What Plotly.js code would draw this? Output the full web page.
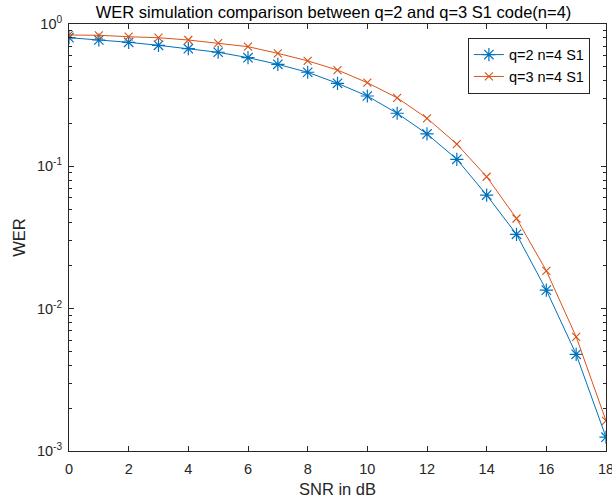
<!DOCTYPE html>
<html>
<head>
<meta charset="utf-8">
<script src="https://cdn.plot.ly/plotly-3.0.1.min.js"></script>
<style>html,body{margin:0;padding:0;background:#fff;}#chart{width:612px;height:504px;}</style>
</head>
<body>
<div id="chart"></div>
<script>
const snr = [0,1,2,3,4,5,6,7,8,9,10,11,12,13,14,15,16,17,18];
const werQ2 = [0.801,0.772,0.744,0.708,0.671,0.633,0.580,0.521,0.458,0.383,0.312,0.236,0.169,0.112,0.0628,0.0333,0.0135,0.00478,0.00125];
const werQ3 = [0.837,0.833,0.814,0.801,0.772,0.735,0.693,0.622,0.551,0.475,0.387,0.303,0.2175,0.1434,0.0845,0.0430,0.01846,0.00634,0.00163];
const xTicks = [0,2,4,6,8,10,12,14,16,18];
const yTicks = [0.001,0.01,0.1,1];
const yTickText = ['10<sup>-3</sup>','10<sup>-2</sup>','10<sup>-1</sup>','10<sup>0</sup>'];
const seriesNames = ['q=2 n=4 S1','q=3 n=4 S1'];

const minorVals = [];
for (let d = 0; d < yTicks.length - 1; d++) {
  for (let m = 2; m <= 9; m++) minorVals.push(yTicks[d] * m);
}

const axisColor = '#262626';
const font = 'Liberation Sans, Arial, sans-serif';

const traces = [
  {x: snr, y: werQ2, name: seriesNames[0], mode: 'lines+markers', type: 'scatter',
   line: {color: '#0072BD', width: 1},
   marker: {symbol: 'asterisk-open', size: 11, color: '#0072BD', line: {color: '#0072BD', width: 1.2}}},
  {x: snr, y: werQ3, name: seriesNames[1], mode: 'lines+markers', type: 'scatter',
   line: {color: '#D95319', width: 1},
   marker: {symbol: 'x-thin-open', size: 8, color: '#D95319', line: {color: '#D95319', width: 1.1}}}
];

const layout = {
  width: 612, height: 504,
  margin: {l: 69, r: 6, t: 24, b: 53},
  paper_bgcolor: '#fff', plot_bgcolor: '#fff',
  font: {family: font, color: axisColor, size: 14.5},
  title: {text: 'WER simulation comparison between q=2 and q=3 S1 code(n=4)',
          font: {family: font, size: 16.5, color: '#000'}, x: 0.545, xanchor: 'center', y: 12, yanchor: 'middle', yref: 'container'},
  xaxis: {range: [0, 18], tickmode: 'array', tickvals: xTicks, ticks: 'inside', ticklen: 5,
          tickcolor: axisColor, showline: true, linecolor: axisColor, linewidth: 1, mirror: 'ticks',
          showgrid: false, zeroline: false, tickfont: {size: 14.5, color: axisColor},
          ticklabeloverflow: 'allow', ticklabelstandoff: 5, automargin: false,
          title: {text: 'SNR in dB', font: {size: 16.5, color: axisColor}, standoff: 7}},
  yaxis: {type: 'log', range: [-3, 0], tickmode: 'array', tickvals: yTicks, ticktext: yTickText,
          ticks: 'inside', ticklen: 5, tickcolor: axisColor, showline: true, linecolor: axisColor,
          linewidth: 1, mirror: 'ticks', showgrid: false, zeroline: false,
          tickfont: {size: 14.5, color: axisColor}, ticklabeloverflow: 'allow', ticklabelstandoff: 3,
          automargin: false,
          minor: {tickmode: 'array', tickvals: minorVals, ticks: 'inside', ticklen: 3, tickcolor: axisColor, showgrid: false},
          title: {text: 'WER', font: {size: 16.5, color: axisColor}, standoff: 7}},
  showlegend: true,
  legend: {x: 0.97, xanchor: 'right', y: 0.968, yanchor: 'top', bgcolor: '#fff',
           bordercolor: axisColor, borderwidth: 1, font: {size: 14.5, color: '#000'},
           tracegroupgap: 0, itemwidth: 30}
};

Plotly.newPlot('chart', traces, layout, {displayModeBar: false, staticPlot: true});
</script>
</body>
</html>
